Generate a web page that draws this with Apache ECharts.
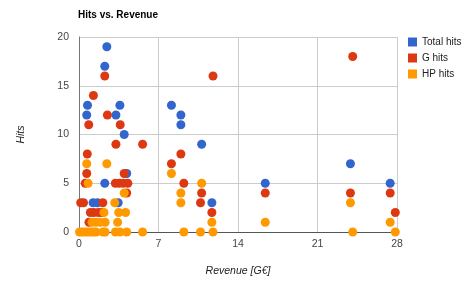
<!DOCTYPE html>
<html>
<head>
<meta charset="utf-8">
<script src="https://cdn.jsdelivr.net/npm/echarts@6/dist/echarts.min.js"></script>
<style>
  html, body { margin: 0; padding: 0; background: #fff; }
  #chart { width: 466px; height: 282px; }
</style>
</head>
<body>
<div id="chart"></div>
<script>
// revenue (G€) and hit counts
var totalRevenue = [2.45, 2.27, 0.75, 3.6, 0.68, 3.25, 3.98, 4.2, 2.27, 1.24, 1.62, 3.45, 8.14, 8.97, 8.97, 10.8, 11.7, 16.4, 23.9, 27.4];
var totalHits    = [19,   17,   13,   13,  12,   12,   10,   6,   5,    3,    3,    3,    13,   12,   11,   9,    3,    5,    7,    5];

var gRevenue = [2.27, 1.27, 2.5, 0.86, 3.63, 3.25, 5.6, 0.73, 0.68, 3.98, 0.55, 3.2, 3.55, 3.9, 4.3, 4.2, 0.15, 0.4, 2.1, 1.0, 1.3, 1.7, 2.0, 0.88, 11.8, 8.97, 8.14, 9.23, 10.8, 10.7, 11.7, 16.4, 24.1, 23.9, 27.4, 27.85];
var gHits    = [16,   14,   12,  11,   11,   9,    9,   8,    6,    6,    5,    5,   5,    5,   5,   4,   3,    3,   3,   2,   2,   2,   2,   1,    16,   8,    7,    5,    4,    3,    2,    4,    18,   4,    4,    2];

var hpRevenue = [0.68, 2.45, 8.14, 0.8, 10.8, 3.98, 8.97, 3.15, 8.97, 23.9, 2.2, 3.5, 4.1, 1.15, 1.5, 1.85, 2.3, 3.4, 11.7, 16.4, 27.4,
                 0.05, 0.3, 0.55, 0.8, 1.05, 1.3, 1.5, 2.1, 2.3, 3.2, 3.6, 4.2, 5.6, 9.23, 10.7, 11.8, 24.1, 27.85];
var hpHits    = [7,    7,    6,    5,   5,    4,    4,    3,    3,    3,    2,   2,   2,   1,    1,   1,    1,   1,   1,    1,    1,
                 0,    0,   0,    0,   0,    0,   0,   0,   0,   0,   0,   0,   0,   0,    0,    0,    0,    0];

var xTicks = [0, 7, 14, 21, 28];
var yTicks = [0, 5, 10, 15, 20];

function pairs(xs, ys) {
    return xs.map(function (x, i) { return [x, ys[i]]; });
}

var dot = { symbolSize: 9, itemStyle: { opacity: 1 } };

var chart = echarts.init(document.getElementById('chart'));
chart.setOption({
    animation: false,
    textStyle: { fontFamily: 'Arial, "Liberation Sans", sans-serif' },
    color: ['#3366cc', '#dc3912', '#ff9900'],
    title: {
        text: 'Hits vs. Revenue',
        left: 78, top: 10, padding: 0,
        textStyle: { fontSize: 10, fontWeight: 'bold', color: '#000' }
    },
    legend: {
        orient: 'vertical',
        left: 408, top: 37, padding: 0,
        icon: 'rect',
        itemWidth: 9, itemHeight: 9,
        itemGap: 6,
        textStyle: { fontSize: 10, color: '#222', lineHeight: 10 },
        data: ['Total hits', 'G hits', 'HP hits']
    },
    grid: { left: 79, right: 69, top: 37, bottom: 50 },
    xAxis: {
        type: 'value',
        min: xTicks[0], max: xTicks[xTicks.length - 1], interval: 7,
        name: 'Revenue [G€]',
        nameLocation: 'middle',
        nameGap: 34,
        nameTextStyle: { fontStyle: 'italic', fontSize: 10.5, color: '#222' },
        axisLine: { lineStyle: { color: '#555' } },
        axisTick: { show: false },
        axisLabel: { fontSize: 10.5, color: '#444', margin: 7 },
        splitLine: { lineStyle: { color: '#ccc' } }
    },
    yAxis: {
        type: 'value',
        min: yTicks[0], max: yTicks[yTicks.length - 1], interval: 5,
        name: 'Hits',
        nameLocation: 'middle',
        nameGap: 52,
        nameTextStyle: { fontStyle: 'italic', fontSize: 10.5, color: '#222' },
        axisLine: { show: true, lineStyle: { color: '#777' } },
        axisTick: { show: false },
        axisLabel: { fontSize: 10.5, color: '#444', margin: 10 },
        splitLine: { lineStyle: { color: '#ccc' } }
    },
    series: [
        Object.assign({ name: 'Total hits', type: 'scatter', data: pairs(totalRevenue, totalHits) }, dot),
        Object.assign({ name: 'G hits', type: 'scatter', data: pairs(gRevenue, gHits) }, dot),
        Object.assign({ name: 'HP hits', type: 'scatter', data: pairs(hpRevenue, hpHits) }, dot)
    ]
});
</script>
</body>
</html>
